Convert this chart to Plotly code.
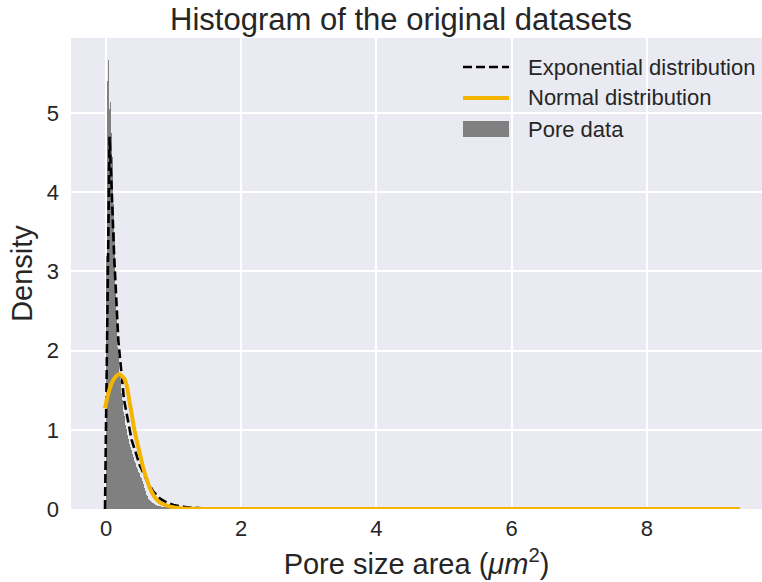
import plotly.graph_objects as go

# ---- data ----
bin_width = 0.01
hist_x = [round(0.005 + 0.01 * i, 3) for i in range(100)]
hist_y = [1.2, 3.2, 5.40, 5.67, 5.05, 5.00, 5.14, 4.75, 4.45, 4.15,
          3.85, 3.50, 3.15, 2.80, 2.50, 2.25, 2.05, 1.93, 1.82, 1.72,
          1.63, 1.54, 1.46, 1.38, 1.30, 1.23, 1.17, 1.11, 1.06, 1.01,
          0.97, 0.93, 0.89, 0.85, 0.82, 0.78, 0.75, 0.72, 0.69, 0.66,
          0.63, 0.60, 0.58, 0.55, 0.53, 0.51, 0.49, 0.47, 0.45, 0.43,
          0.41, 0.39, 0.37, 0.35, 0.32, 0.29, 0.26, 0.23, 0.20, 0.18,
          0.16, 0.14, 0.13, 0.12, 0.11, 0.10, 0.09, 0.08, 0.075, 0.07,
          0.065, 0.06, 0.055, 0.05, 0.047, 0.044, 0.041, 0.038, 0.035, 0.033,
          0.030, 0.029, 0.028, 0.026, 0.025, 0.023, 0.022, 0.020, 0.019, 0.018,
          0.017, 0.016, 0.015, 0.014, 0.013, 0.012, 0.011, 0.011, 0.010, 0.010]

exp_x = [-0.015, 0.052, 0.084, 0.12, 0.182, 0.266, 0.38, 0.50, 0.61, 0.70,
         0.80, 0.90, 1.00, 1.20, 1.50, 2.00, 4.00, 6.00, 8.00, 9.38]
exp_y = [0.0, 4.70, 4.03, 3.20, 2.13, 1.38, 0.87, 0.55, 0.35, 0.22,
         0.13, 0.08, 0.05, 0.02, 0.005, 0.0, 0.0, 0.0, 0.0, 0.0]

norm_x = [-0.015, 0.034, 0.108, 0.197, 0.281, 0.355, 0.42, 0.50, 0.55, 0.651,
          0.72, 0.80, 0.95, 1.10, 1.30, 1.60, 3.00, 5.00, 7.00, 9.38]
norm_y = [1.27, 1.46, 1.63, 1.70, 1.63, 1.32, 1.00, 0.70, 0.52, 0.26,
          0.15, 0.08, 0.03, 0.01, 0.003, 0.0, 0.0, 0.0, 0.0, 0.0]

x_ticks = [0, 2, 4, 6, 8]
y_ticks = [0, 1, 2, 3, 4, 5]

title_text = "Histogram of the original datasets"
x_label = "Pore size area (<i>μm</i><sup>2</sup>)"
y_label = "Density"
legend_labels = ["Exponential distribution", "Normal distribution", "Pore data"]

# ---- styles ----
W, H = 762, 582
L, R, T, B = 71, 0, 38, 73
BG = "#EAEAF2"
GRAY = "#808080"
ORANGE = "#F5B400"
FONT = "Liberation Sans, Arial, sans-serif"
TXT = "#262626"


def px(xp):
    return (xp - L) / (W - L - R)


def py(yp):
    return (H - B - yp) / (H - T - B)


fig = go.Figure()
fig.add_trace(go.Bar(x=hist_x, y=hist_y, width=bin_width, marker=dict(color=GRAY, line=dict(width=0)),
                     name=legend_labels[2], showlegend=False))
fig.add_trace(go.Scatter(x=exp_x, y=exp_y, mode="lines", name=legend_labels[0], showlegend=False,
                         line=dict(color="black", width=2.6, dash="9px,4px")))
fig.add_trace(go.Scatter(x=norm_x, y=norm_y, mode="lines", name=legend_labels[1], showlegend=False,
                         line=dict(color=ORANGE, width=4, shape="spline", smoothing=0.8)))

# manual legend (matplotlib-like)
shapes = [
    dict(type="line", xref="paper", yref="paper", x0=px(463), x1=px(509), y0=py(67), y1=py(67),
         line=dict(color="black", width=2.6, dash="9px,4px")),
    dict(type="line", xref="paper", yref="paper", x0=px(463), x1=px(509), y0=py(98), y1=py(98),
         line=dict(color=ORANGE, width=4)),
    dict(type="rect", xref="paper", yref="paper", x0=px(463), x1=px(509), y0=py(137), y1=py(121),
         fillcolor=GRAY, line=dict(width=0)),
]
annotations = []
for lab, yy in zip(legend_labels, [67, 98, 129]):
    annotations.append(dict(text=lab, xref="paper", yref="paper", x=px(526), y=py(yy),
                            xanchor="left", yanchor="middle", showarrow=False,
                            font=dict(family=FONT, size=22, color=TXT)))

fig.update_layout(
    width=W, height=H,
    margin=dict(l=L, r=R, t=T, b=B, pad=0),
    paper_bgcolor="white", plot_bgcolor=BG,
    bargap=0, showlegend=False,
    font=dict(family=FONT, size=22, color=TXT),
    title=dict(text=title_text, x=401 / W, xanchor="center", y=1 - 19 / H, yanchor="middle",
               font=dict(family=FONT, size=31, color=TXT)),
    shapes=shapes, annotations=annotations,
)
fig.update_xaxes(range=[-0.518, 9.704], tickvals=x_ticks, ticks="", showline=False, zeroline=False,
                 showgrid=True, gridcolor="white", gridwidth=2, ticklabelstandoff=4,
                 title=dict(text=x_label, font=dict(family=FONT, size=29, color=TXT), standoff=13),
                 tickfont=dict(family=FONT, size=22, color=TXT))
fig.update_yaxes(range=[0, 5.947], tickvals=y_ticks, ticks="", showline=False, zeroline=False,
                 showgrid=True, gridcolor="white", gridwidth=2, ticklabelstandoff=11,
                 title=dict(text=y_label, font=dict(family=FONT, size=29, color=TXT), standoff=5),
                 tickfont=dict(family=FONT, size=22, color=TXT))

fig.write_html("out.html")
